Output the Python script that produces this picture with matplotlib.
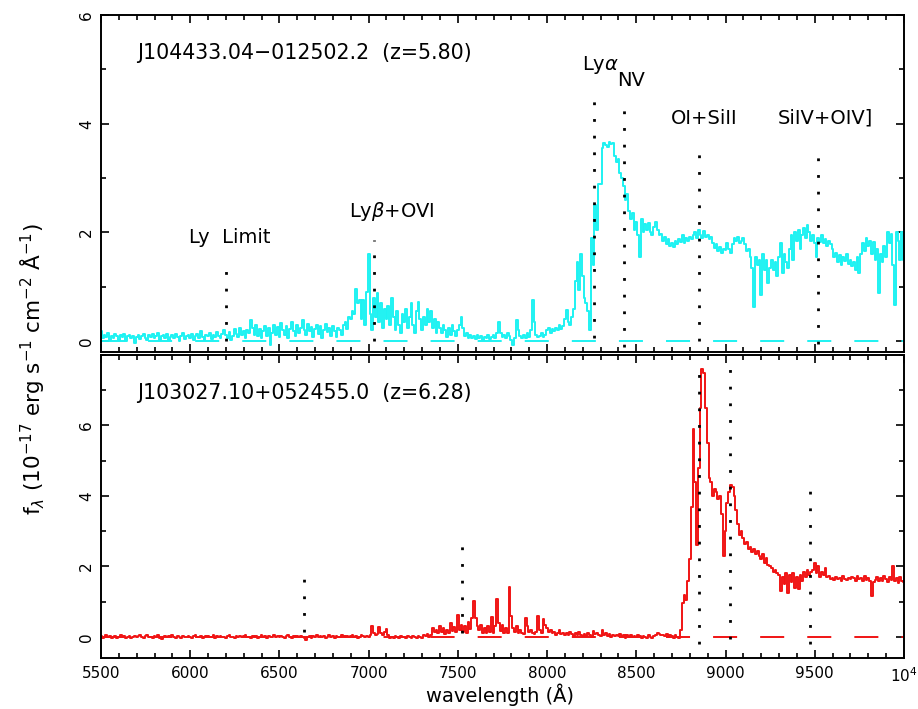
import numpy as np
import matplotlib
matplotlib.use("Agg")
import matplotlib.pyplot as plt
from matplotlib.ticker import MultipleLocator, FixedLocator

plt.rcParams['font.family'] = 'DejaVu Sans'
plt.rcParams['mathtext.fontset'] = 'dejavusans'
plt.rcParams['lines.scale_dashes'] = False

# 10 A bins from 5500 to 10000 A
wave = np.arange(5500, 10001, 10)

# J104433.04-012502.2 (z=5.80), one row per 100 A
flux_a = [
    0.18, 0.05, 0.12, 0.08, 0.15, 0.02, 0.10, 0.06, 0.14, 0.09,
    0.03, 0.11, 0.07, 0.13, 0.00, 0.09, 0.12, 0.05, 0.10, -0.03,
    0.08, 0.12, 0.04, 0.10, 0.14, 0.06, 0.02, 0.11, 0.07, 0.13,
    0.05, 0.09, 0.15, 0.03, 0.10, 0.12, 0.06, 0.14, 0.02, 0.08,
    0.11, 0.05, 0.13, 0.07, 0.00, 0.10, 0.15, 0.04, 0.09, 0.12,
    0.06, 0.14, 0.03, 0.10, 0.13, 0.05, 0.18, 0.08, 0.02, 0.12,
    0.09, 0.15, 0.04, 0.11, 0.07, 0.16, 0.10, 0.05, 0.13, 0.20,
    0.12, 0.06, 0.16, 0.02, 0.10, 0.22, 0.14, 0.08, 0.24, 0.12,
    0.18, 0.06, 0.20, 0.15, 0.38, 0.25, 0.12, 0.30, 0.10, 0.22,
    0.05, 0.18, 0.28, 0.10, 0.24, -0.08, 0.15, 0.30, 0.12, 0.26,
    0.08, 0.34, 0.20, 0.12, 0.28, 0.05, 0.22, 0.36, 0.18, 0.10,
    0.30, 0.15, 0.25, 0.38, 0.20, 0.12, 0.32, 0.18, 0.26, 0.08,
    0.22, 0.30, 0.14, 0.28, 0.06, 0.20, 0.32, 0.16, 0.24, 0.10,
    0.28, 0.18, 0.08, 0.25, 0.20, 0.12, 0.30, 0.35, 0.22, 0.45,
    0.40, 0.55, 0.50, 0.96, 0.70, 0.75, 0.40, 0.75, 0.30, 0.90,
    1.60, 0.50, 0.20, 0.80, 0.45, 0.88, 0.35, 0.70, 0.25, 0.60,
    0.40, 0.65, 0.30, 0.80, 0.45, 0.20, 0.55, 0.30, 0.15, 0.50,
    0.35, 0.60, 0.25, 0.45, 0.70, 0.30, 0.15, 0.55, 0.72, 0.40,
    0.20, 0.45, 0.30, 0.60, 0.35, 0.55, 0.25, 0.40, 0.15, 0.35,
    0.25, 0.15, 0.30, 0.20, 0.08, 0.25, 0.12, 0.30, 0.18, 0.10,
    0.20, 0.30, 0.45, 0.25, 0.10, 0.15, 0.05, 0.12, 0.06, 0.10,
    0.04, 0.12, 0.06, 0.10, 0.02, 0.08, 0.05, 0.12, 0.04, 0.08,
    0.12, 0.05, 0.15, 0.35, 0.15, 0.08, 0.12, 0.06, 0.15, 0.10,
    0.02, -0.08, 0.05, 0.38, 0.20, 0.10, 0.06, 0.12, 0.05, 0.15,
    0.08, 0.20, 0.75, 0.35, 0.12, 0.08, 0.10, 0.15, 0.08, 0.12,
    0.20, 0.25, 0.15, 0.22, 0.18, 0.25, 0.20, 0.30, 0.22, 0.28,
    0.40, 0.57, 0.35, 0.30, 0.45, 0.60, 1.10, 1.45, 0.95, 1.60,
    1.20, 0.80, 0.70, 0.55, 0.20, 1.90, 1.40, 2.50, 2.05, 2.90,
    2.90, 3.55, 3.65, 3.60, 3.58, 3.66, 3.62, 3.64, 3.40, 3.30,
    3.35, 3.10, 3.00, 2.85, 2.60, 2.70, 2.40, 2.25, 2.35, 2.05,
    2.20, 1.95, 1.55, 2.25, 2.00, 2.15, 2.05, 2.18, 2.00, 1.95,
    2.10, 2.20, 2.05, 1.95, 1.98, 1.85, 1.92, 1.78, 1.88, 1.75,
    1.80, 1.74, 1.85, 1.78, 1.88, 1.82, 1.95, 1.80, 1.90, 1.85,
    1.92, 1.88, 1.95, 2.00, 1.90, 2.04, 1.95, 1.90, 2.02, 1.92,
    1.95, 1.88, 1.92, 1.80, 1.72, 1.78, 1.65, 1.74, 1.62, 1.70,
    1.68, 1.80, 1.70, 1.62, 1.78, 1.90, 1.84, 1.92, 1.80, 1.85,
    1.90, 1.78, 1.65, 1.70, 1.55, 1.35, 0.62, 1.55, 1.40, 1.50,
    0.85, 1.60, 1.30, 1.50, 1.07, 1.35, 1.50, 1.30, 1.45, 1.20,
    1.55, 1.80, 1.25, 1.60, 1.45, 1.35, 1.70, 1.95, 1.50, 2.00,
    1.85, 2.05, 1.70, 1.95, 2.08, 1.90, 2.13, 2.00, 1.85, 1.95,
    1.80, 1.55, 1.90, 1.82, 1.95, 1.80, 1.88, 1.75, 1.85, 1.78,
    1.70, 1.55, 1.62, 1.45, 1.58, 1.40, 1.55, 1.48, 1.60, 1.42,
    1.50, 1.38, 1.45, 1.30, 1.55, 1.25, 1.60, 1.80, 1.65, 1.90,
    1.75, 1.85, 1.60, 1.82, 1.50, 1.70, 0.88, 1.60, 1.45, 1.75,
    1.55, 2.00, 1.80, 1.98, 1.40, 0.66, 2.00, 1.85, 1.50, 2.00,
    1.50,
]

# J103027.10+052455.0 (z=6.28)
flux_b = [
    0.03, -0.02, 0.01, 0.04, -0.01, 0.02, -0.03, 0.00, 0.03, -0.02,
    0.01, 0.04, -0.01, 0.02, -0.03, 0.01, 0.03, -0.02, 0.00, 0.02,
    -0.01, 0.03, 0.05, 0.00, -0.02, 0.02, 0.04, -0.01, 0.01, -0.03,
    0.02, 0.00, 0.04, -0.02, -0.05, 0.01, 0.03, -0.01, 0.02, 0.00,
    0.04, 0.01, -0.02, 0.03, 0.00, -0.03, 0.02, 0.01, -0.01, 0.03,
    0.00, -0.02, 0.02, 0.04, 0.01, -0.01, 0.03, -0.03, 0.00, 0.02,
    0.03, -0.01, 0.01, 0.05, -0.02, 0.02, 0.00, 0.03, -0.01, 0.01,
    -0.03, 0.02, 0.04, 0.00, 0.01, -0.02, 0.03, -0.01, 0.02, 0.00,
    0.02, 0.04, -0.01, 0.01, -0.03, 0.03, 0.00, 0.02, -0.02, 0.01,
    0.04, 0.00, 0.02, -0.02, 0.03, 0.01, -0.01, 0.05, 0.00, 0.02,
    -0.01, 0.03, 0.01, -0.03, 0.02, 0.04, 0.00, -0.02, 0.03, 0.01,
    0.02, -0.01, 0.03, 0.00, -0.04, -0.08, 0.01, 0.03, -0.02, 0.02,
    0.01, 0.04, -0.01, 0.02, 0.00, 0.03, -0.02, 0.01, 0.04, 0.00,
    0.02, -0.02, 0.03, 0.01, -0.01, 0.04, 0.02, 0.00, 0.03, -0.01,
    0.02, 0.04, 0.00, 0.03, -0.02, 0.01, 0.05, 0.02, 0.00, 0.03,
    0.01, 0.05, 0.30, 0.12, 0.04, 0.08, 0.28, 0.10, 0.05, 0.14,
    0.22, 0.06, -0.02, 0.01, -0.03, 0.02, 0.00, -0.02, 0.03, -0.01,
    0.01, -0.03, 0.02, 0.00, -0.04, 0.02, 0.01, -0.02, 0.03, 0.00,
    -0.02, 0.04, 0.02, 0.08, 0.00, 0.05, 0.25, 0.15, 0.20, 0.10,
    0.32, 0.15, 0.26, 0.08, 0.20, 0.12, 0.38, 0.18, 0.28, 0.15,
    0.62, 0.20, 0.35, 0.15, 0.30, 0.10, 0.42, 0.22, 0.55, 1.02,
    0.55, 0.30, 0.20, 0.35, 0.12, 0.25, 0.10, 0.30, 0.15, 0.57,
    0.12, 0.30, 1.08, 0.40, 0.18, 0.35, 0.12, 0.25, 0.10, 1.42,
    0.60, 0.25, 0.15, 0.30, 0.10, 0.20, 0.12, 0.08, 0.55, 0.30,
    0.15, 0.20, 0.10, 0.08, 0.15, 0.58, 0.20, 0.10, 0.50, 0.35,
    0.25, 0.15, 0.20, 0.10, 0.15, 0.05, 0.12, 0.20, 0.08, 0.10,
    0.05, 0.12, 0.04, 0.15, 0.08, 0.02, 0.10, 0.05, 0.15, 0.06,
    0.03, 0.08, 0.02, 0.10, 0.05, 0.00, 0.18, 0.08, 0.12, 0.04,
    0.02, 0.20, 0.06, 0.10, 0.03, 0.08, 0.00, 0.05, 0.02, 0.06,
    0.03, 0.07, 0.02, 0.05, -0.02, 0.04, 0.01, 0.06, 0.00, 0.03,
    -0.01, 0.04, 0.02, -0.03, 0.03, 0.00, -0.02, 0.04, 0.01, -0.03,
    0.02, 0.05, 0.12, 0.08, 0.04, 0.06, 0.02, 0.07, 0.00, 0.05,
    0.03, -0.02, 0.06, 0.01, -0.03, 0.20, 0.95, 1.20, 1.05, 1.60,
    2.20, 3.70, 5.90, 4.40, 2.60, 4.80, 6.50, 7.60, 7.50, 6.50,
    5.50, 4.50, 4.40, 4.00, 4.20, 4.10, 3.90, 4.00, 3.50, 2.30,
    3.00, 3.80, 4.10, 4.30, 4.25, 4.00, 3.60, 3.20, 2.90, 3.00,
    2.80, 2.64, 2.70, 2.50, 2.55, 2.40, 2.50, 2.35, 2.45, 2.30,
    2.20, 2.35, 2.10, 2.25, 2.05, 2.00, 1.95, 1.85, 1.90, 1.80,
    1.75, 1.30, 1.70, 1.50, 1.80, 1.25, 1.75, 1.55, 1.80, 1.40,
    1.70, 1.35, 1.75, 1.60, 1.85, 1.70, 1.90, 1.75, 1.85, 1.90,
    2.10, 1.80, 2.00, 1.70, 1.85, 1.75, 1.95, 1.70, 1.72, 1.65,
    1.68, 1.62, 1.70, 1.64, 1.66, 1.60, 1.72, 1.65, 1.62, 1.68,
    1.63, 1.70, 1.66, 1.58, 1.72, 1.64, 1.68, 1.60, 1.74, 1.62,
    1.66, 1.60, 1.17, 1.55, 1.62, 1.70, 1.58, 1.66, 1.60, 1.72,
    1.64, 1.56, 1.70, 1.62, 2.00, 1.58, 1.66, 1.52, 1.70, 1.60,
    1.55,
]

# emission line markers: wavelength, lower and upper end of the dotted line
lines_a_wave = [6202, 7030, 8263, 8432, 8852, 9519]
lines_a_lo = [0.0, 0.0, 0.05, -0.1, 0.0, -0.05]
lines_a_hi = [1.45, 1.86, 4.66, 4.47, 3.67, 3.57]

lines_b_wave = [6639, 7524, 8852, 9026, 9474]
lines_b_lo = [0.15, 0.1, -0.2, -0.05, -0.2]
lines_b_hi = [2.0, 2.93, 7.75, 7.9, 4.5]

# line labels (top panel only)
label_text = ["Ly  Limit", r"Ly$\beta$+OVI", r"Ly$\alpha$", "NV", "OI+SiII", "SiIV+OIV]"]
label_x = [6223, 7131, 8297, 8470, 8879, 9557]
label_y = [1.90, 2.38, 5.08, 4.80, 4.10, 4.10]

name_a = "J104433.04\u2212012502.2  (z=5.80)"
name_b = "J103027.10+052455.0  (z=6.28)"

xticks = [5500, 6000, 6500, 7000, 7500, 8000, 8500, 9000, 9500, 10000]
xticklabels = ["5500", "6000", "6500", "7000", "7500", "8000", "8500", "9000", "9500", r"10$^4$"]

cyan = '#1ef2f2'
red = '#f01414'
dash = (0, (17.3, 16.6))
dots = (0, (2.0, 10.0))

fig = plt.figure(figsize=(9.18, 7.09), dpi=100)
ax1 = fig.add_axes([0.1100, 0.5035, 0.8747, 0.4753])
ax2 = fig.add_axes([0.1100, 0.0719, 0.8747, 0.4274])


def style_axes(ax, ylim, show_x):
    ax.set_xlim(5500, 10000)
    ax.set_ylim(*ylim)
    ax.xaxis.set_major_locator(FixedLocator(xticks))
    ax.xaxis.set_minor_locator(MultipleLocator(100))
    ax.yaxis.set_major_locator(FixedLocator([0, 2, 4, 6]))
    ax.yaxis.set_minor_locator(MultipleLocator(1))
    ax.tick_params(which='both', direction='in', top=True, right=True, width=1.2)
    ax.tick_params(which='major', length=6)
    ax.tick_params(which='minor', length=3.5)
    ax.tick_params(axis='x', labelsize=11, pad=6)
    ax.tick_params(axis='y', labelsize=11, pad=5)
    for lab in ax.get_yticklabels():
        lab.set_rotation(90)
        lab.set_va('center')
    if show_x:
        ax.set_xticklabels(xticklabels)
    else:
        ax.set_xticklabels([])
    for sp in ax.spines.values():
        sp.set_linewidth(1.4)


for ax, w, lo, hi in [(ax1, lines_a_wave, lines_a_lo, lines_a_hi),
                      (ax2, lines_b_wave, lines_b_lo, lines_b_hi)]:
    for x, y0, y1 in zip(w, lo, hi):
        ax.plot([x, x], [y0, y1], color='black', lw=2.0, linestyle=dots,
                dash_capstyle='butt', zorder=3)

ax1.step(wave, flux_a, where='mid', color=cyan, lw=1.4, zorder=2)
ax1.plot([5500, 10000], [0, 0], color=cyan, lw=1.4, linestyle=dash, zorder=2)
ax2.step(wave, flux_b, where='mid', color=red, lw=1.4, zorder=2)
ax2.plot([5500, 10000], [0, 0], color=red, lw=1.4, linestyle=dash, zorder=2)

style_axes(ax1, (-0.2, 6), False)
style_axes(ax2, (-0.6, 8), True)

ax1.text(5702, 5.30, name_a, fontsize=14.8, ha='left', va='center')
ax2.text(5702, 6.92, name_b, fontsize=14.8, ha='left', va='center')

for t, x, y in zip(label_text, label_x, label_y):
    ax1.text(x, y, t, fontsize=14, ha='center', va='center')

fig.text(0.036, 0.48,
         r"f$_\lambda$ (10$^{-17}$ erg s$^{-1}$ cm$^{-2}$ $\mathrm{\AA}^{-1}$)",
         rotation=90, ha='center', va='center', fontsize=15.5)
fig.text(0.545, 0.02, "wavelength (Å)", ha='center', va='center', fontsize=14)

fig.savefig("out.png", dpi=100)
